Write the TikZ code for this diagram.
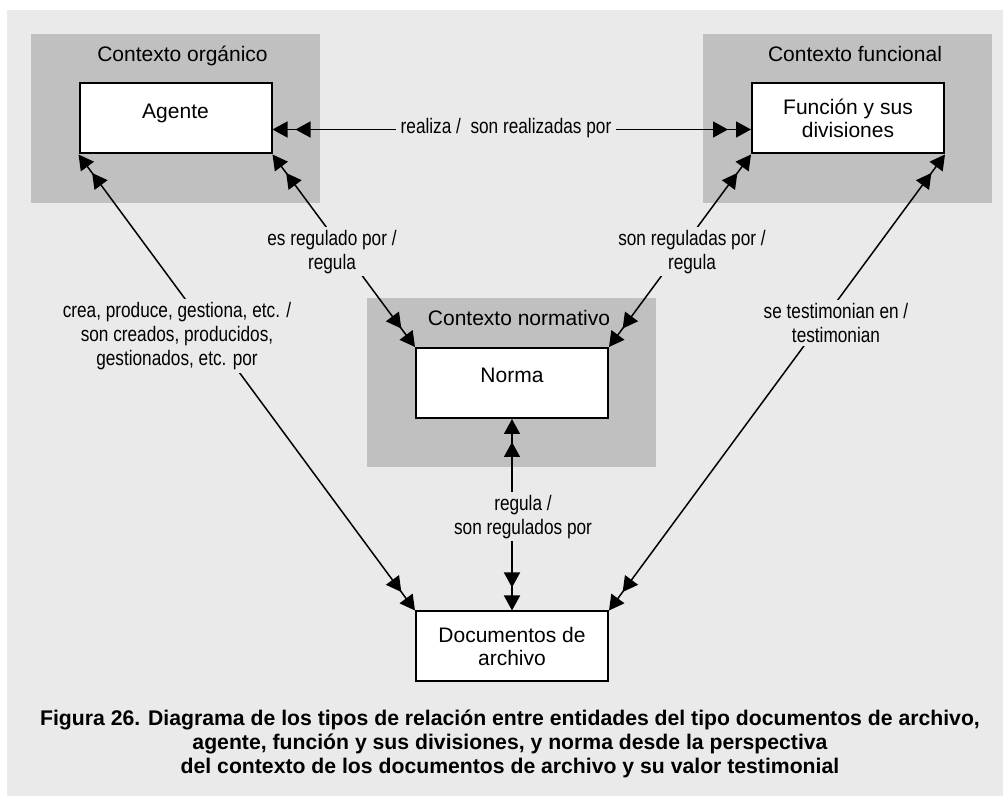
\documentclass[tikz,border=0pt]{standalone}
\usepackage{fontspec}
\setmainfont{Liberation Sans}
\newfontfamily\narrowfont[FakeStretch=0.82]{Liberation Sans}
\usepackage{tikz}
\usetikzlibrary{arrows.meta, positioning}
\definecolor{pagebg}{HTML}{EAEAEA}
\definecolor{ctxbg}{HTML}{C0C0C0}
\tikzset{
  ctx/.style={rectangle, fill=ctxbg, inner sep=0pt,
    minimum width=144.5pt, minimum height=84.5pt},
  ctxtitle/.style={anchor=base, inner sep=0pt,
    font=\fontsize{10.5pt}{12pt}\selectfont},
  entity/.style={rectangle, draw=black, line width=1pt, fill=white,
    align=center, inner sep=0pt, minimum width=96pt, minimum height=35pt,
    font=\fontsize{10.5pt}{11.5pt}\selectfont},
  oneline/.style={text height=8pt, text depth=8pt},
  dtip/.tip={Triangle[length=7.5pt,width=8pt,sep=4pt] Triangle[length=7.5pt,width=8pt]},
  rel/.style={{dtip}-{dtip}, line width=0.75pt},
  lbl/.style={fill=pagebg, align=center, inner xsep=2.5pt, inner ysep=1.5pt,
    font=\narrowfont\fontsize{10.5pt}{12pt}\selectfont},
  caption/.style={align=center, inner sep=0pt,
    font=\bfseries\fontsize{10.6pt}{12pt}\selectfont},
}
\begin{document}
\begin{tikzpicture}[x=0.5pt, y=-0.5pt]
  \useasboundingbox (0,0) rectangle (1003,796);
  \fill[pagebg] (7,10) rectangle (1003,796);

  % contexts
  \node[ctx] (orgctx)  at (175.5,118.5) {};
  \node[ctx] (funcctx) at (847.5,118.5) {};
  \node[ctx] (normctx) at (511.5,382.5) {};
  \node[ctxtitle] (orgtitle)  at (182.5,62) {Contexto orgánico};
  \node[ctxtitle] (functitle) at (855,62)   {Contexto funcional};
  \node[ctxtitle] (normtitle) at (519,326)  {Contexto normativo};

  % entities
  \node[entity, oneline] (agente)  at (175.5,118.5) {Agente};
  \node[entity]          (funcion) at (848,118.5)   {Función y sus\\divisiones};
  \node[entity, oneline] (norma)   at (512,383)     {Norma};
  \node[entity]          (docs)    at (512,646.5)   {Documentos de\\archivo};

  % relations
  \draw[rel] ([yshift=-5.5pt]agente.east) -- ([yshift=-5.5pt]funcion.west);
  \draw[rel] (agente.south west) -- (docs.north west);
  \draw[rel] (agente.south east) -- (norma.north west);
  \draw[rel] (funcion.south west) -- (norma.north east);
  \draw[rel] (funcion.south east) -- (docs.north east);
  \draw[rel] (norma.south) -- (docs.north);

  \node[lbl] (realiza)  at (506,127.7) {realiza /\ \ son realizadas por};
  \node[lbl] (regagen)  at (332,251.7) {es regulado por /\\regula};
  \node[lbl] (regfunc)  at (692,251.7) {son reguladas por /\\regula};
  \node[lbl] (crea)     at (177,336)   {crea, produce, gestiona, etc. /\\son creados, producidos,\\gestionados, etc. por};
  \node[lbl] (testim)   at (836,323)   {se testimonian en /\\testimonian};
  \node[lbl] (regnorma) at (523,516.7) {regula /\\son regulados por};

  % caption
  \node[caption] (cap) at (510,743.7)
    {Figura 26. Diagrama de los tipos de relación entre entidades del tipo documentos de archivo,\\
     agente, función y sus divisiones, y norma desde la perspectiva\\
     del contexto de los documentos de archivo y su valor testimonial};
\end{tikzpicture}
\end{document}
